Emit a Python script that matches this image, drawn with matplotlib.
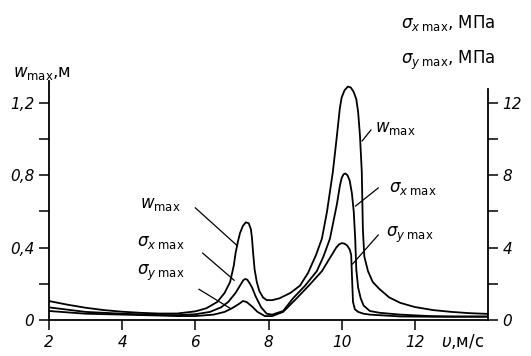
import matplotlib
matplotlib.use("Agg")
import matplotlib.pyplot as plt

# speed, m/s
v_w = [2.0, 2.5, 3.0, 3.5, 4.0, 4.5, 5.0, 5.5, 6.0, 6.3, 6.6, 6.8, 6.95, 7.05, 7.1,
       7.16, 7.22, 7.3, 7.38, 7.46, 7.52, 7.55, 7.58, 7.62, 7.68, 7.75, 7.85, 7.95,
       8.1, 8.3, 8.6, 8.86, 9.08, 9.3, 9.46, 9.6, 9.76, 9.86, 9.95, 10.0, 10.08,
       10.17, 10.25, 10.33, 10.4, 10.45, 10.5, 10.55, 10.58, 10.62, 10.72, 10.85,
       11.04, 11.3, 11.6, 12.0, 12.5, 13.0, 13.5, 14.0]
w_max = [0.105, 0.085, 0.068, 0.055, 0.046, 0.040, 0.036, 0.036, 0.048, 0.065, 0.10,
         0.15, 0.21, 0.30, 0.37, 0.43, 0.48, 0.52, 0.54, 0.535, 0.50, 0.45, 0.37,
         0.28, 0.21, 0.16, 0.125, 0.11, 0.11, 0.12, 0.15, 0.19, 0.26, 0.36, 0.45,
         0.60, 0.82, 1.00, 1.17, 1.23, 1.27, 1.29, 1.285, 1.26, 1.22, 1.15, 1.02,
         0.82, 0.50, 0.35, 0.27, 0.21, 0.17, 0.125, 0.095, 0.072, 0.055, 0.045,
         0.038, 0.034]

v_sx = [2.0, 3.0, 4.0, 5.0, 5.5, 6.0, 6.4, 6.7, 6.9, 7.1, 7.25, 7.31, 7.36, 7.42, 7.48,
        7.55, 7.65, 7.8, 7.95, 8.1, 8.4, 8.67, 9.0, 9.32, 9.5, 9.68, 9.87, 9.95, 10.0,
        10.05, 10.1, 10.16, 10.22, 10.28, 10.33, 10.37, 10.4, 10.45, 10.52, 10.6,
        10.77, 11.04, 11.6, 12.4, 13.0, 14.0]
sx_max = [0.7, 0.45, 0.35, 0.28, 0.27, 0.32, 0.45, 0.7, 1.0, 1.5, 2.0, 2.2, 2.27, 2.23,
          2.05, 1.8, 1.3, 0.7, 0.35, 0.3, 0.5, 1.2, 1.9, 2.7, 3.5, 4.5, 6.4, 7.4, 7.85,
          8.05, 8.1, 8.0, 7.7, 7.0, 6.0, 4.5, 2.8, 1.8, 1.2, 0.8, 0.5, 0.4, 0.3, 0.22,
          0.2, 0.2]

v_sy = [2.0, 3.0, 4.0, 5.0, 5.5, 6.0, 6.5, 6.8, 7.0, 7.2, 7.3, 7.4, 7.55, 7.7, 7.9, 8.1,
        8.4, 8.77, 9.1, 9.46, 9.7, 9.85, 9.93, 10.0, 10.08, 10.15, 10.22, 10.26, 10.29,
        10.31, 10.36, 10.45, 10.6, 10.77, 11.6, 12.5, 14.0]
sy_max = [0.5, 0.35, 0.3, 0.25, 0.22, 0.22, 0.3, 0.45, 0.65, 0.9, 1.05, 1.0, 0.75, 0.45,
          0.22, 0.22, 0.45, 1.2, 1.9, 2.7, 3.5, 4.0, 4.18, 4.25, 4.22, 4.12, 3.9, 3.6,
          2.0, 1.0, 0.6, 0.45, 0.35, 0.3, 0.2, 0.18, 0.18]

x_ticks = [2, 4, 6, 8, 10, 12]
w_ticks = [0, 0.4, 0.8, 1.2]
w_tick_labels = ["0", "0,4", "0,8", "1,2"]
s_ticks = [0, 4, 8, 12]

plt.rcParams["font.family"] = ["DejaVu Sans"]
fig = plt.figure(figsize=(5.31, 3.56), dpi=100)
ax = fig.add_axes([0.0923, 0.101, 0.8267, 0.671])
ax2 = ax.twinx()

lw = 1.3
ax.plot(v_w, w_max, color="black", lw=lw)
ax2.plot(v_sx, sx_max, color="black", lw=lw)
ax2.plot(v_sy, sy_max, color="black", lw=lw)

ax.set_xlim(2, 14)
ax.set_ylim(0, 1.32)
ax2.set_ylim(0, 13.2)

for a in (ax, ax2):
    a.spines["top"].set_visible(False)
ax.spines["right"].set_visible(False)
ax2.spines["left"].set_visible(False)
ax2.spines["bottom"].set_visible(False)
ax2.spines["right"].set_bounds(0, 12.75)
for s in ("left", "bottom"):
    ax.spines[s].set_linewidth(1.3)
ax2.spines["right"].set_linewidth(1.3)

tick_font = dict(fontsize=11, fontstyle="italic")
ax.set_xticks(x_ticks)
ax.set_xticklabels([str(t) for t in x_ticks], **tick_font)
ax.set_yticks(w_ticks)
ax.set_yticklabels(w_tick_labels, **tick_font)
ax.set_yticks([0.2, 0.6, 1.0], minor=True)
ax2.set_yticks(s_ticks)
ax2.set_yticklabels([str(t) for t in s_ticks], **tick_font)
ax2.set_yticks([2, 6, 10], minor=True)
ax.tick_params(axis="both", which="both", direction="out", length=7, width=1.1)
ax.tick_params(axis="x", pad=4)
ax2.tick_params(axis="y", which="both", direction="out", length=7, width=1.1)

# axis titles
fig.text(0.025, 0.795, r"$w_{\rm max}$,м", fontsize=12, va="center")
fig.text(0.755, 0.935, r"$\sigma_{x\;\rm max}$, МПа", fontsize=12, va="center")
fig.text(0.755, 0.83, r"$\sigma_{y\;\rm max}$, МПа", fontsize=12, va="center")
fig.text(0.83, 0.025, r"$\upsilon$,м/с", fontsize=12)

# inline labels with leader lines
lab = dict(fontsize=12, ha="left", va="center")
ax.text(10.9, 1.06, r"$w_{\rm max}$", **lab)
ax.plot([10.56, 10.8], [0.99, 1.05], color="black", lw=0.9)
ax.text(11.3, 0.73, r"$\sigma_{x\;\rm max}$", **lab)
ax.plot([10.38, 11.0], [0.63, 0.73], color="black", lw=0.9)
ax.text(11.2, 0.47, r"$\sigma_{y\;\rm max}$", **lab)
ax.plot([10.3, 11.0], [0.31, 0.47], color="black", lw=0.9)

ax.text(4.5, 0.64, r"$w_{\rm max}$", **lab)
ax.plot([6.0, 7.15], [0.62, 0.41], color="black", lw=0.9)
ax.text(4.4, 0.43, r"$\sigma_{x\;\rm max}$", **lab)
ax.plot([6.2, 7.06], [0.37, 0.22], color="black", lw=0.9)
ax.text(4.4, 0.26, r"$\sigma_{y\;\rm max}$", **lab)
ax.plot([6.1, 6.95], [0.17, 0.065], color="black", lw=0.9)

fig.savefig("out.png", dpi=100)
